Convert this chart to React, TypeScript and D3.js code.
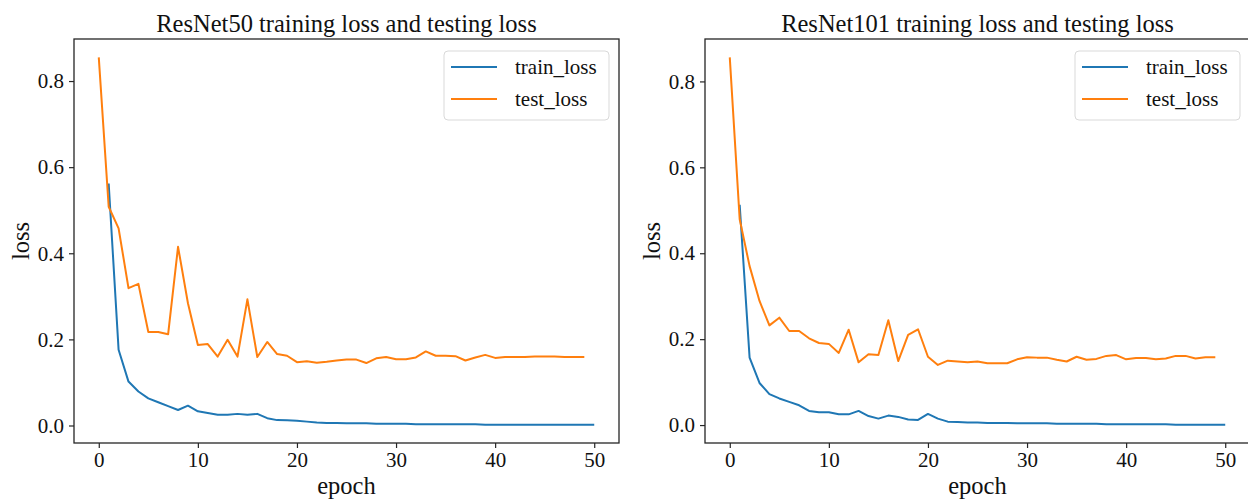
import React, { useEffect, useRef } from "react"
import * as d3 from "d3"

// values, epochs start at 0 for test and 1 for train
const resnet50Test = [0.855, 0.508, 0.458, 0.319, 0.329, 0.217, 0.217, 0.212, 0.415, 0.284,
  0.187, 0.189, 0.160, 0.199, 0.160, 0.293, 0.159, 0.194, 0.166, 0.162,
  0.147, 0.149, 0.146, 0.148, 0.151, 0.153, 0.153, 0.145, 0.156, 0.159,
  0.154, 0.154, 0.158, 0.172, 0.162, 0.162, 0.161, 0.151, 0.158, 0.164,
  0.157, 0.159, 0.159, 0.159, 0.160, 0.160, 0.160, 0.159, 0.159, 0.159]
const resnet50Train = [0.562, 0.176, 0.102, 0.079, 0.063, 0.054, 0.045, 0.036, 0.046, 0.033,
  0.029, 0.025, 0.025, 0.027, 0.025, 0.027, 0.017, 0.0125, 0.012, 0.011,
  0.009, 0.007, 0.006, 0.006, 0.005, 0.005, 0.005, 0.004, 0.004, 0.004,
  0.004, 0.003, 0.003, 0.003, 0.003, 0.003, 0.003, 0.003, 0.002, 0.002,
  0.002, 0.002, 0.002, 0.002, 0.002, 0.002, 0.002, 0.002, 0.002, 0.002]
const resnet101Test = [0.856, 0.479, 0.370, 0.289, 0.232, 0.250, 0.219, 0.219, 0.202, 0.191,
  0.189, 0.168, 0.222, 0.146, 0.165, 0.163, 0.244, 0.149, 0.210, 0.223,
  0.159, 0.140, 0.150, 0.148, 0.146, 0.148, 0.144, 0.144, 0.144, 0.153,
  0.158, 0.157, 0.157, 0.152, 0.148, 0.159, 0.152, 0.154, 0.161, 0.163,
  0.153, 0.156, 0.156, 0.153, 0.155, 0.161, 0.161, 0.155, 0.158, 0.158]
const resnet101Train = [0.513, 0.157, 0.098, 0.072, 0.062, 0.054, 0.046, 0.033, 0.030, 0.030,
  0.025, 0.025, 0.033, 0.021, 0.015, 0.022, 0.019, 0.013, 0.012, 0.026,
  0.015, 0.008, 0.007, 0.006, 0.006, 0.005, 0.005, 0.005, 0.004, 0.004,
  0.004, 0.004, 0.003, 0.003, 0.003, 0.003, 0.003, 0.002, 0.002, 0.002,
  0.002, 0.002, 0.002, 0.002, 0.001, 0.001, 0.001, 0.001, 0.001, 0.001]

const titles = ["ResNet50 training loss and testing loss", "ResNet101 training loss and testing loss"]
const legendNames = ["train_loss", "test_loss"]
const xTicks = [0, 10, 20, 30, 40, 50]
const yTicks = [0.0, 0.2, 0.4, 0.6, 0.8]

const W = 1248, H = 499
const FONT = "'Liberation Serif', 'Times New Roman', serif"
const BLUE = "#1f77b4", ORANGE = "#ff7f0e", INK = "#262626"

function App() {
  const ref = useRef(null)

  useEffect(() => {
    const svg = d3.select(ref.current)
    svg.selectAll("*").remove()

    const panels = [
      { left: 74, train: resnet50Train, test: resnet50Test, title: titles[0] },
      { left: 705, train: resnet101Train, test: resnet101Test, title: titles[1] },
    ]
    const top = 39, bottom = 443, pw = 545

    panels.forEach(p => {
      const trainPts = p.train.map((v, i) => [i + 1, v])
      const testPts = p.test.map((v, i) => [i, v])
      const all = trainPts.concat(testPts)

      // matplotlib style 5% margins
      const [x0, x1] = d3.extent(all, d => d[0])
      const [y0, y1] = d3.extent(all, d => d[1])
      const mx = (x1 - x0) * 0.05, my = (y1 - y0) * 0.05
      const x = d3.scaleLinear().domain([x0 - mx, x1 + mx]).range([p.left, p.left + pw])
      const y = d3.scaleLinear().domain([y0 - my, y1 + my]).range([bottom, top])

      const g = svg.append("g")

      const line = d3.line().x(d => x(d[0])).y(d => y(d[1]))
      g.append("path").datum(trainPts).attr("d", line)
        .attr("fill", "none").attr("stroke", BLUE).attr("stroke-width", 2).attr("stroke-linejoin", "round")
      g.append("path").datum(testPts).attr("d", line)
        .attr("fill", "none").attr("stroke", ORANGE).attr("stroke-width", 2).attr("stroke-linejoin", "round")

      // axes
      const xa = g.append("g").attr("transform", `translate(0,${bottom})`)
        .call(d3.axisBottom(x).tickValues(xTicks).tickSize(5).tickPadding(4).tickFormat(d3.format("d")))
      const ya = g.append("g").attr("transform", `translate(${p.left},0)`)
        .call(d3.axisLeft(y).tickValues(yTicks).tickSize(5).tickPadding(5).tickFormat(d3.format(".1f")))
      ;[xa, ya].forEach(a => {
        a.select(".domain").remove()
        a.selectAll("line").attr("stroke", INK).attr("stroke-width", 1.2)
        a.selectAll("text").attr("fill", "#111").style("font-family", FONT).style("font-size", "21px")
      })

      // box
      g.append("rect").attr("x", p.left).attr("y", top).attr("width", pw).attr("height", bottom - top)
        .attr("fill", "none").attr("stroke", INK).attr("stroke-width", 1.3)

      g.append("text").attr("x", p.left + pw / 2).attr("y", 32).attr("text-anchor", "middle")
        .style("font-family", FONT).style("font-size", "24.5px").attr("fill", "#111").text(p.title)
      g.append("text").attr("x", p.left + pw / 2).attr("y", 494).attr("text-anchor", "middle")
        .style("font-family", FONT).style("font-size", "24.5px").attr("fill", "#111").text("epoch")
      g.append("text").attr("transform", `translate(${p.left - 45},${(top + bottom) / 2}) rotate(-90)`)
        .attr("text-anchor", "middle")
        .style("font-family", FONT).style("font-size", "24.5px").attr("fill", "#111").text("loss")

      // legend
      const lx = p.left + pw - 10 - 165, ly = 51
      const lg = g.append("g").attr("transform", `translate(${lx},${ly})`)
      lg.append("rect").attr("width", 165).attr("height", 69).attr("rx", 4)
        .attr("fill", "white").attr("fill-opacity", 0.8).attr("stroke", "#d9d9d9")
      ;[BLUE, ORANGE].forEach((c, i) => {
        const cy = 16 + i * 32
        lg.append("line").attr("x1", 7).attr("x2", 53).attr("y1", cy).attr("y2", cy)
          .attr("stroke", c).attr("stroke-width", 2)
        lg.append("text").attr("x", 71).attr("y", cy).attr("dy", "0.33em")
          .style("font-family", FONT).style("font-size", "21px").attr("fill", "#111").text(legendNames[i])
      })
    })
  }, [])

  return (
    <svg ref={ref} width={W} height={H} style={{ position: "absolute", left: 0, top: 0, background: "white" }} />
  )
}

export default App
